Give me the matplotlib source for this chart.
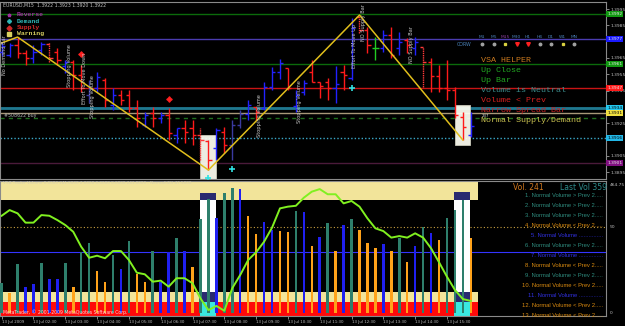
import matplotlib.pyplot as plt
from matplotlib.patches import Rectangle

# ---------------- data ----------------
# EURUSD M15 bars (high, low, open, close) and their colours
highs = [1.39748, 1.39742, 1.39778, 1.39699, 1.39729, 1.39748, 1.39748, 1.39711, 1.39637, 1.39637,
         1.39607, 1.39515, 1.39564, 1.39527, 1.39466, 1.39453, 1.39453, 1.39392, 1.39319, 1.39349,
         1.39319, 1.39343, 1.39221, 1.39270, 1.39270, 1.39221, 1.39147, 1.39221, 1.39227, 1.39270,
         1.39331, 1.39392, 1.39349, 1.39503, 1.39594, 1.39644, 1.39588, 1.39453, 1.39515, 1.39637,
         1.39503, 1.39527, 1.39601, 1.39607, 1.39895, 1.39913, 1.39840, 1.39778, 1.39821, 1.39840,
         1.39809, 1.39772, 1.39778, 1.39717, 1.39650, 1.39607, 1.39637, 1.39472, 1.39319, 1.39319]
lows = [1.39662, 1.39656, 1.39650, 1.39607, 1.39619, 1.39668, 1.39625, 1.39607, 1.39558, 1.39453,
        1.39441, 1.39374, 1.39441, 1.39349, 1.39331, 1.39362, 1.39319, 1.39227, 1.39227, 1.39227,
        1.39251, 1.39147, 1.39129, 1.39129, 1.39116, 1.39024, 1.38963, 1.39024, 1.39067, 1.39024,
        1.39221, 1.39270, 1.39270, 1.39331, 1.39453, 1.39521, 1.39453, 1.39319, 1.39423, 1.39503,
        1.39404, 1.39392, 1.39374, 1.39453, 1.39515, 1.39803, 1.39680, 1.39637, 1.39686, 1.39650,
        1.39668, 1.39680, 1.39668, 1.39472, 1.39441, 1.39441, 1.39392, 1.39282, 1.39147, 1.39165]
opens = [1.39686, 1.39668, 1.39729, 1.39680, 1.39650, 1.39699, 1.39735, 1.39686, 1.39601, 1.39625,
         1.39545, 1.39423, 1.39466, 1.39515, 1.39362, 1.39423, 1.39423, 1.39343, 1.39239, 1.39312,
         1.39282, 1.39300, 1.39178, 1.39221, 1.39221, 1.39178, 1.39141, 1.39098, 1.39196, 1.39116,
         1.39239, 1.39306, 1.39349, 1.39343, 1.39472, 1.39564, 1.39588, 1.39355, 1.39441, 1.39564,
         1.39503, 1.39503, 1.39466, 1.39564, 1.39527, 1.39901, 1.39821, 1.39711, 1.39711, 1.39791,
         1.39711, 1.39760, 1.39711, 1.39717, 1.39625, 1.39539, 1.39466, 1.39453, 1.39288, 1.39178]
closes = [1.39723, 1.39729, 1.39680, 1.39650, 1.39686, 1.39735, 1.39650, 1.39637, 1.39625, 1.39545,
          1.39466, 1.39466, 1.39533, 1.39392, 1.39423, 1.39392, 1.39343, 1.39282, 1.39300, 1.39282,
          1.39300, 1.39190, 1.39221, 1.39196, 1.39178, 1.39147, 1.39024, 1.39208, 1.39116, 1.39239,
          1.39306, 1.39362, 1.39319, 1.39472, 1.39564, 1.39619, 1.39466, 1.39423, 1.39496, 1.39503,
          1.39478, 1.39466, 1.39490, 1.39545, 1.39834, 1.39821, 1.39729, 1.39711, 1.39791, 1.39668,
          1.39748, 1.39729, 1.39748, 1.39625, 1.39539, 1.39466, 1.39453, 1.39300, 1.39227, 1.39233]
bar_kind = list("BBRRBBrRBRRNBRBRRRBRBRBRRrRBRNNBRBBBRBBRRRBRBrRGBRBRBrRRRRRB")

# zigzag vertices (bar index, price)
zz_idx = [0, 2, 26, 45, 58]
zz_price = [1.39742, 1.39778, 1.38963, 1.39913, 1.39147]

# VSA signal markers
supply_idx = [10, 21]
supply_price = [1.39674, 1.39398]
demand_idx = [26, 29, 44]
demand_price = [1.38915, 1.38969, 1.39466]

# horizontal levels and their price boxes
level_prices = [1.39919, 1.39766, 1.39613, 1.39466, 1.39343, 1.39312, 1.39282, 1.39159, 1.39006]
level_colors = ["#0b6b0b", "#4b3cb0", "#0b6b0b", "#c81414", "#1f7890", "#a89878", "#1e6e1e", "#3aa8c8", "#4a1a3a"]
level_styles = ["-", "-", "-", "-", "-", "-", (0, (3, 3)), (0, (1, 1.5)), "-"]
box_labels = ["1.3992", "1.3977", "1.3961", "1.3947", "1.3934", "1.3931", None, "1.3916", "1.3901"]
box_colors = ["#119911", "#1a1aff", "#119911", "#ff1a1a", "#22c8f0", "#f0e040", None, "#22b8e8", "#801080"]
price_ticks = [1.3995, 1.3985, 1.3965, 1.3955, 1.3945, 1.3925, 1.3905, 1.3895]

# volume indicator panel
vol = [17.3, 11.4, 28.3, 14.9, 16.7, 28.9, 19.6, 19.6, 28.9, 14.9,
       35.3, 40.5, 24.6, 17.8, 33.5, 25.4, 42.0, 22.5, 17.8, 36.0,
       17.8, 35.3, 43.4, 36.0, 26.6, 54.4, 66.2, 55.0, 69.5, 72.4,
       72.0, 56.4, 45.7, 52.7, 48.2, 47.6, 46.9, 59.3, 58.5, 38.9,
       44.3, 52.1, 36.2, 51.1, 54.4, 48.2, 40.8, 37.6, 39.9, 36.0,
       43.8, 29.5, 39.1, 50.2, 46.3, 42.4, 55.4, 59.8, 65.7, 43.4]
vol_kind = list("TOTBBTBBTOTTOOTBTOOTBBTBOTTBTTBOOBBOOTBOBTOBTOOOBOTOBTBOTTTO")
osc = [56.5, 59.8, 57.9, 52.5, 52.5, 56.9, 56.5, 54.0, 51.1, 47.2,
       38.5, 32.1, 33.3, 31.8, 36.0, 36.0, 30.8, 23.4, 22.5, 18.2,
       18.8, 15.3, 20.2, 20.2, 17.3, 8.5, 1.7, 4.1, 1.3, 14.4,
       22.1, 30.8, 35.3, 41.4, 49.6, 60.8, 61.8, 62.3, 67.0, 70.5,
       72.0, 69.0, 69.0, 63.7, 65.1, 61.8, 55.0, 49.2, 47.6, 43.8,
       44.7, 43.8, 46.3, 43.8, 37.6, 29.5, 21.1, 13.4, 8.1, 7.0]
time_idx = list(range(0, 57, 4))
time_labels = ["13 Jul 2009"] + ["13 Jul %02d:30" % h for h in range(2, 16)]

legend_items = [("1. Normal Volume > Prev 2.....", "#2e8b7e"),
                ("2. Normal Volume > Prev 2.....", "#2e8b7e"),
                ("3. Normal Volume > Prev 2.....", "#2e8b7e"),
                ("4. Normal Volume < Prev 2.....", "#d98a10"),
                ("5. Normal Volume ...............", "#3030e0"),
                ("6. Normal Volume > Prev 2.....", "#2e8b7e"),
                ("7. Normal Volume ...............", "#3030e0"),
                ("8. Normal Volume < Prev 2.....", "#d98a10"),
                ("9. Normal Volume > Prev 2.....", "#2e8b7e"),
                ("10. Normal Volume < Prev 2.....", "#d98a10"),
                ("11. Normal Volume ...............", "#3030e0"),
                ("12. Normal Volume < Prev 2.....", "#d98a10"),
                ("13. Normal Volume < Prev 2.....", "#d98a10")]

# ---------------- drawing ----------------
W, H = 625, 326
fig = plt.figure(figsize=(6.25, 3.26), dpi=100, facecolor="black")
GREY = "#c0c0c0"


def fx(x):
    return x / W


def fy(y):
    return 1 - y / H


ax1 = fig.add_axes([0.0, fy(179), 606 / W, 177 / H], facecolor="black")
ax2 = fig.add_axes([0.0, fy(316), 606 / W, 135 / H], facecolor="black")
XL = (-0.21, 76.0)

# --- price panel ---
ax1.set_xlim(*XL)
ax1.set_ylim(1.38908, 1.39993)
for p, c, ls in zip(level_prices, level_colors, level_styles):
    ax1.axhline(p, color=c, lw=1.0, ls=ls, zorder=1)
ax1.axhline(level_prices[4], color="#1f7890", lw=2.0, zorder=1)

# highlight boxes
for x0, x1, y0, y1 in [(24.95, 26.95, 1.3890, 1.39178), (56.95, 58.95, 1.39116, 1.39362)]:
    ax1.add_patch(Rectangle((x0, y0), x1 - x0, y1 - y0, facecolor="#fffff4", edgecolor="#d0d0c0",
                            lw=0.6, alpha=0.93, zorder=2))

colmap = {"B": "#2222ff", "R": "#ff1a1a", "r": "#ff3a3a", "N": "#3a3aa0", "G": "#22cc22"}
for i in range(len(highs)):
    c = colmap[bar_kind[i]]
    ls = (0, (1, 0.6)) if bar_kind[i] == "r" else "-"
    ax1.vlines(i, lows[i], highs[i], color=c, lw=1.0, ls=ls, zorder=4)
    ax1.hlines(opens[i], i - 0.4, i, color=c, lw=1.0, zorder=4)
    ax1.hlines(closes[i], i, i + 0.4, color=c, lw=1.0, zorder=4)

ax1.plot(zz_idx, zz_price, color="#e0be1c", lw=1.1, zorder=5)
ax1.plot(supply_idx, supply_price, "D", color="#ff2020", ms=2.4, zorder=6)
ax1.plot(supply_idx, supply_price, "+", color="#ff2020", ms=4, mew=1, zorder=6)
ax1.plot(demand_idx, demand_price, "+", color="#30e0e0", ms=4, mew=1.2, zorder=6)

ax1.set_xticks([])
ax1.yaxis.tick_right()
ax1.set_yticks(price_ticks)
ax1.set_yticklabels(["%.4f" % p for p in price_ticks])
ax1.tick_params(axis="y", labelsize=3.2, colors=GREY, length=2, pad=1, width=0.5)
for s in ax1.spines.values():
    s.set_color("#8a8a8a")
    s.set_linewidth(0.8)

# price boxes on the right scale
for p, lab, bc in zip(level_prices, box_labels, box_colors):
    if lab is None:
        continue
    tc = "black" if bc in ("#22c8f0", "#f0e040", "#22b8e8") else "#e8e8e8"
    ax1.text(1.002, p, lab, transform=ax1.get_yaxis_transform(), fontsize=3.2, color=tc,
             va="center", ha="left", clip_on=False,
             bbox=dict(facecolor=bc, edgecolor="none", pad=0.7))

# header + legend
fig.text(fx(3), fy(5), "EURUSD,M15  1.3922 1.3923 1.3920 1.3922", fontsize=3.3, color=GREY,
         va="center", ha="left")
leg = [("Reverse", "#a030a0", "*"), ("Demand", "#30b8b8", "P"),
       ("Supply", "#d02828", "D"), ("Warning", "#d8d060", "s")]
for k, (txt, c, m) in enumerate(leg):
    y = 15 + 6.3 * k
    fig.text(fx(17), fy(y), txt, fontsize=4.6, color=c, family="Liberation Mono",
             weight="bold", va="center", ha="left")
    fig.add_artist(plt.Line2D([fx(9)], [fy(y)], marker=m, color=c, ms=2.5, ls="none"))

# vertical VSA annotations
notes = [(5, 55, "No Demand Bar"), (69, 66, "Stopping Volume"), (85, 78, "Effort To Move Down"),
         (93, 97, "Stopping Volume"), (259, 116, "Stopping Volume"), (300, 102, "Stopping Volume"),
         (355, 46, "Effort To Move Up"), (363, 23, "NO Supply Bar"), (411, 45, "NO Supply Bar")]
for x, y, t in notes:
    fig.text(fx(x), fy(y), t, rotation=90, fontsize=3.6, color="#c8c8c8", ha="center", va="center")
fig.text(fx(4), fy(116), "#508622 buy", fontsize=3.4, color="#b0b0b0", va="center", ha="left")

# VSA helper block
helper = [("VSA HELPER", "#c8781e"), ("Up Close", "#22a822"), ("Up Bar", "#22a822"),
          ("Volume is Neutral", "#3a8c8c"), ("Volume < Prev", "#d82020"),
          ("Narrow Spread Bar", "#c82020"), ("Normal Supply/Demand", "#c8c050")]
for k, (t, c) in enumerate(helper):
    fig.text(fx(481), fy(60.7 + 10 * k), t, fontsize=6, color=c, family="Liberation Mono",
             va="center", ha="left", zorder=10)
fig.text(fx(482), fy(115.6), "237", fontsize=2.8, color="#e0e0e0", va="center", ha="left")

# timeframe strip
tfs = ["M1", "M5", "M15", "M30", "H1", "H4", "D1", "W1", "MN"]
for k, t in enumerate(tfs):
    x = 482 + 11.5 * k
    fig.text(fx(x), fy(37), t, fontsize=3.2, color="#8f3fa0" if t == "M15" else "#4a80b8",
             ha="center", va="center")
    if t in ("M30", "H1"):
        m, c, s = "v", "#ff2020", 2.6
    elif t in ("M15", "W1"):
        m, c, s = "s", "#d8d040", 1.4
    else:
        m, c, s = "o", "#a0a0a0", 1.8
    fig.add_artist(plt.Line2D([fx(x)], [fy(44)], marker=m, color=c, ms=s, ls="none"))
fig.text(fx(464), fy(44), "CORW", fontsize=3.4, color="#4a80b8", ha="center", va="center")

# --- volume panel ---
ax2.set_xlim(*XL)
ax2.set_ylim(-1.74, 76.7)
band_end = 59.9
ax2.add_patch(Rectangle((XL[0], 65.7), band_end - XL[0], 10.4, facecolor="#f2e49a", edgecolor="none", zorder=1))
ax2.add_patch(Rectangle((XL[0], 6.4), band_end - XL[0], 5.8, facecolor="#f2e49a", edgecolor="none", zorder=1))
ax2.add_patch(Rectangle((XL[0], -1.74), band_end - XL[0], 8.14, facecolor="#ff0a0a", edgecolor="none", zorder=1))
for x0, top in [(24.95, 69.7), (56.9, 70.1)]:
    ax2.add_patch(Rectangle((x0, -1.74), 2.05, top + 1.74, facecolor="#ffffff", edgecolor="none", zorder=2))
    ax2.add_patch(Rectangle((x0, 65.7), 2.05, top - 65.7, facecolor="#2a2a70", edgecolor="none", zorder=2))
    ax2.add_patch(Rectangle((x0, 6.6), 2.05, 5.4, facecolor="#2a2a70", edgecolor="none", zorder=2))
    ax2.add_patch(Rectangle((x0, -1.74), 2.05, 8.34, facecolor="#3ae8e0", edgecolor="none", zorder=2))

ax2.axhline(50, color="#c8a040", lw=0.8, ls=(0, (1, 2)), zorder=1)
ax2.axhline(35.4, color="#3434ff", lw=0.8, zorder=1)
vcol = {"T": "#2e7f6c", "O": "#ffa21a", "B": "#2020f0"}
ax2.bar(range(len(vol)), vol, width=0.32, bottom=0, color=[vcol[k] for k in vol_kind],
        zorder=3, align="center")
ax2.plot(range(len(osc)), osc, color="#80f020", lw=1.4, zorder=4)

ax2.set_yticks([])
ax2.set_xticks(time_idx)
ax2.set_xticklabels(time_labels, ha="left")
ax2.tick_params(axis="x", labelsize=2.8, colors=GREY, length=2, pad=1, width=0.5)
for s in ax2.spines.values():
    s.set_color("#8a8a8a")
    s.set_linewidth(0.8)

fig.text(fx(3), fy(183), "VSA Trader Volume 0.0000 241.0000 2.0000 0.0000 0.0000 241.0000 - Normal(40) 47.5000",
         fontsize=3.0, color="#d8d0b0", va="center", ha="left")
fig.text(fx(3), fy(312), "MetaTrader, \u00a9 2001-2009 MetaQuotes Software Corp.", fontsize=3.3,
         color="#ffd0d0", va="center", ha="left")
fig.text(fx(513), fy(187), "Vol. 241", fontsize=5.5, color="#d2781e", va="center", ha="left")
fig.text(fx(560), fy(187), "Last Vol 359", fontsize=5.5, color="#2e8b8b", va="center", ha="left")
for k, (t, c) in enumerate(legend_items):
    fig.text(fx(603), fy(195.7 + 9.95 * k), t, fontsize=4.2, color=c, family="Liberation Sans",
             va="center", ha="right")
for t, y in [("464.75", 185), ("50", 227), ("0", 313)]:
    fig.text(fx(610), fy(y), t, fontsize=3.2, color=GREY, va="center", ha="left")

fig.savefig("out.png", dpi=100, facecolor="black")
